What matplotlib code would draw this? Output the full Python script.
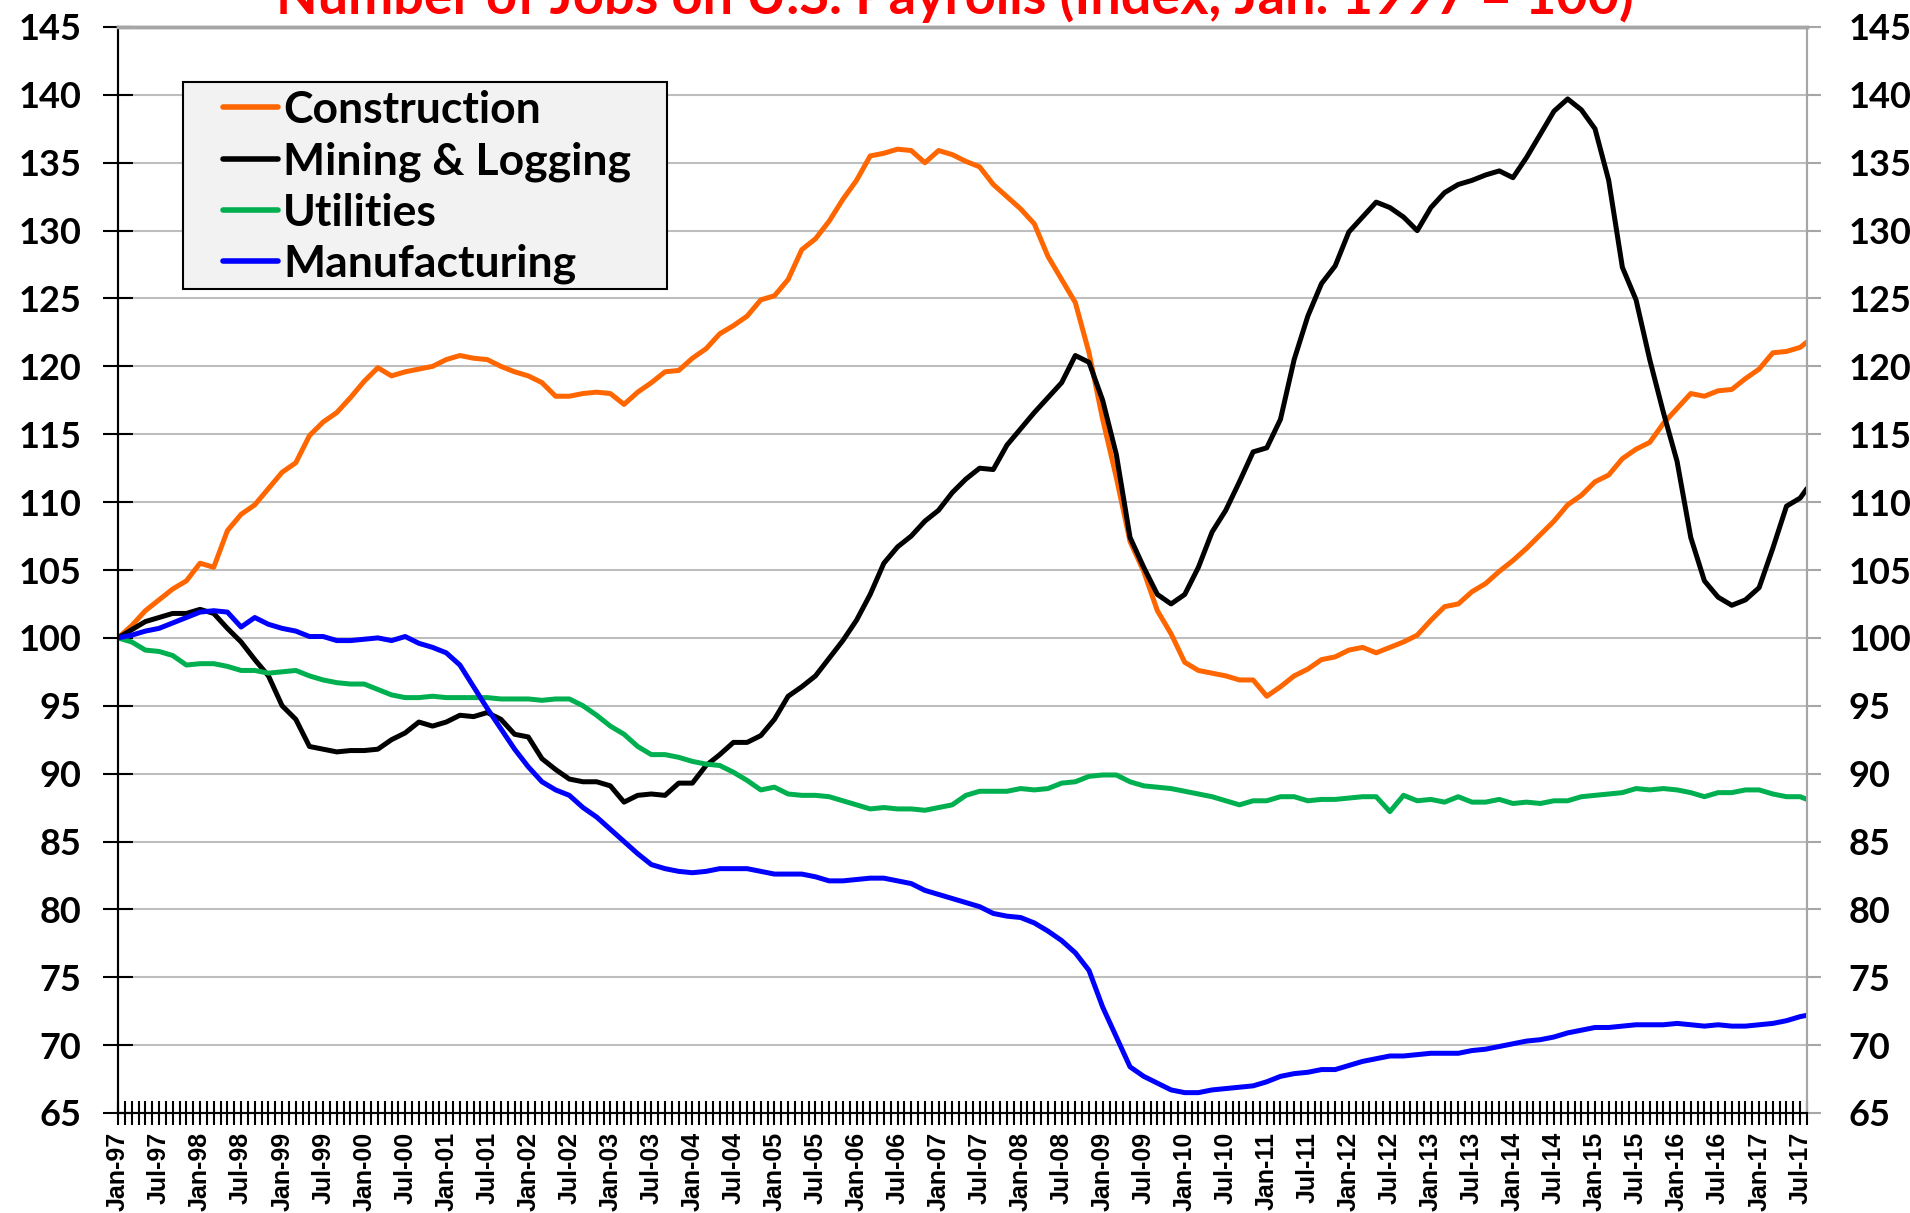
import numpy as np
import pandas as pd
import matplotlib
matplotlib.use("Agg")
import matplotlib.pyplot as plt
from matplotlib.ticker import FixedLocator, MultipleLocator
from matplotlib.patches import Rectangle

# month index (0 = Jan-97), sampled every two months plus the last month (Aug-17)
month_idx = list(range(0, 247, 2)) + [247]

construction = [
    100.0, 100.9, 102.0, 102.8, 103.6, 104.2, 105.5, 105.2, 107.9, 109.1, 109.8, 111.0, 112.2,
    112.9, 114.9, 115.9, 116.6, 117.7, 118.9, 119.9, 119.3, 119.6, 119.8, 120.0, 120.5, 120.8,
    120.6, 120.5, 120.0, 119.6, 119.3, 118.8, 117.8, 117.8, 118.0, 118.1, 118.0, 117.2, 118.1,
    118.8, 119.6, 119.7, 120.6, 121.3, 122.4, 123.0, 123.7, 124.9, 125.2, 126.4,
    128.6, 129.4, 130.7, 132.3, 133.7, 135.5, 135.7, 136.0, 135.9, 135.0, 135.9, 135.6, 135.1,
    134.7, 133.4, 132.5, 131.6, 130.5, 128.1, 126.4, 124.7, 121.0, 116.1, 111.8, 107.1,
    104.9, 102.0, 100.3, 98.2, 97.6, 97.4, 97.2, 96.9, 96.9, 95.7, 96.4, 97.2, 97.7,
    98.4, 98.6, 99.1, 99.3, 98.9, 99.3, 99.7, 100.2, 101.3, 102.3, 102.5, 103.4,
    104.0, 104.9, 105.7, 106.6, 107.6, 108.6, 109.8, 110.5, 111.5, 112.0, 113.2, 113.9, 114.4,
    115.8, 116.9, 118.0, 117.8, 118.2, 118.3, 119.1, 119.8, 121.0, 121.1, 121.4, 121.8,
]
mining = [
    100.0, 100.6, 101.2, 101.5, 101.8, 101.8, 102.1, 101.8, 100.7, 99.7, 98.4, 97.2, 95.0,
    94.0, 92.0, 91.8, 91.6, 91.7, 91.7, 91.8, 92.5, 93.0, 93.8, 93.5, 93.8, 94.3,
    94.2, 94.5, 94.0, 92.9, 92.7, 91.1, 90.3, 89.6, 89.4, 89.4, 89.1, 87.9, 88.4,
    88.5, 88.4, 89.3, 89.3, 90.6, 91.4, 92.3, 92.3, 92.8, 94.0, 95.7,
    96.4, 97.2, 98.5, 99.8, 101.3, 103.2, 105.5, 106.7, 107.5, 108.6, 109.4, 110.7, 111.7,
    112.5, 112.4, 114.2, 115.4, 116.6, 117.7, 118.8, 120.8, 120.3, 117.5, 113.5, 107.4,
    105.2, 103.2, 102.5, 103.2, 105.2, 107.8, 109.4, 111.5, 113.7, 114.0, 116.1, 120.5, 123.7,
    126.1, 127.4, 129.9, 131.0, 132.1, 131.7, 131.0, 130.0, 131.7, 132.8, 133.4, 133.7,
    134.1, 134.4, 133.9, 135.4, 137.1, 138.8, 139.7, 138.9, 137.5, 133.7, 127.3, 124.9, 120.5,
    116.6, 113.0, 107.4, 104.2, 103.0, 102.4, 102.8, 103.7, 106.6, 109.7, 110.3, 111.0,
]
utilities = [
    100.0, 99.7, 99.1, 99.0, 98.7, 98.0, 98.1, 98.1, 97.9, 97.6, 97.6, 97.4, 97.5,
    97.6, 97.2, 96.9, 96.7, 96.6, 96.6, 96.2, 95.8, 95.6, 95.6, 95.7, 95.6, 95.6,
    95.6, 95.6, 95.5, 95.5, 95.5, 95.4, 95.5, 95.5, 95.0, 94.3, 93.5, 92.9, 92.0,
    91.4, 91.4, 91.2, 90.9, 90.7, 90.6, 90.1, 89.5, 88.8, 89.0, 88.5,
    88.4, 88.4, 88.3, 88.0, 87.7, 87.4, 87.5, 87.4, 87.4, 87.3, 87.5, 87.7, 88.4,
    88.7, 88.7, 88.7, 88.9, 88.8, 88.9, 89.3, 89.4, 89.8, 89.9, 89.9, 89.4,
    89.1, 89.0, 88.9, 88.7, 88.5, 88.3, 88.0, 87.7, 88.0, 88.0, 88.3, 88.3, 88.0,
    88.1, 88.1, 88.2, 88.3, 88.3, 87.2, 88.4, 88.0, 88.1, 87.9, 88.3, 87.9,
    87.9, 88.1, 87.8, 87.9, 87.8, 88.0, 88.0, 88.3, 88.4, 88.5, 88.6, 88.9, 88.8,
    88.9, 88.8, 88.6, 88.3, 88.6, 88.6, 88.8, 88.8, 88.5, 88.3, 88.3, 88.1,
]
manufacturing = [
    100.0, 100.2, 100.5, 100.7, 101.1, 101.5, 101.9, 102.0, 101.9, 100.8, 101.5, 101.0, 100.7,
    100.5, 100.1, 100.1, 99.8, 99.8, 99.9, 100.0, 99.8, 100.1, 99.6, 99.3, 98.9, 98.0,
    96.4, 94.8, 93.3, 91.8, 90.5, 89.4, 88.8, 88.4, 87.5, 86.8, 85.9, 85.0, 84.1,
    83.3, 83.0, 82.8, 82.7, 82.8, 83.0, 83.0, 83.0, 82.8, 82.6, 82.6,
    82.6, 82.4, 82.1, 82.1, 82.2, 82.3, 82.3, 82.1, 81.9, 81.4, 81.1, 80.8, 80.5,
    80.2, 79.7, 79.5, 79.4, 79.0, 78.4, 77.7, 76.8, 75.5, 72.8, 70.6, 68.4,
    67.7, 67.2, 66.7, 66.5, 66.5, 66.7, 66.8, 66.9, 67.0, 67.3, 67.7, 67.9, 68.0,
    68.2, 68.2, 68.5, 68.8, 69.0, 69.2, 69.2, 69.3, 69.4, 69.4, 69.4, 69.6,
    69.7, 69.9, 70.1, 70.3, 70.4, 70.6, 70.9, 71.1, 71.3, 71.3, 71.4, 71.5, 71.5,
    71.5, 71.6, 71.5, 71.4, 71.5, 71.4, 71.4, 71.5, 71.6, 71.8, 72.1, 72.2,
]

series_names = ["Construction", "Mining & Logging", "Utilities", "Manufacturing"]
series_colors = ["#FF6600", "#000000", "#00B050", "#0000FF"]

# tick labels every 6 months
label_dates = pd.date_range("1997-01-01", "2017-07-01", freq="6MS")
tick_labels = [d.strftime("%b-%y") for d in label_dates]
tick_pos = list(range(0, 6 * len(tick_labels), 6))
n_months = 248

title = "Number of Jobs on U.S. Payrolls (Index, Jan. 1997 = 100)"

W, H = 1910, 1213
fig = plt.figure(figsize=(W / 100, H / 100), dpi=100)
ax = fig.add_axes([118 / W, 1 - 1113 / H, (1807 - 118) / W, (1113 - 27) / H])

data = [construction, mining, utilities, manufacturing]
handles = []
for name, col, vals in zip(series_names, series_colors, data):
    ln, = ax.plot(month_idx, vals, color=col, lw=3.6, label=name,
                  solid_joinstyle="round", solid_capstyle="round", zorder=3)
    handles.append(ln)

ax.set_xlim(0, n_months - 1)
ax.set_ylim(65, 145)
ax.yaxis.set_major_locator(MultipleLocator(5))
ax.grid(axis="y", color="#BEBEBE", lw=1.5, zorder=0)
ax.grid(axis="x", visible=False)

ax.xaxis.set_major_locator(FixedLocator(tick_pos))
ax.xaxis.set_minor_locator(FixedLocator(list(range(n_months))))
ax.set_xticklabels(tick_labels, rotation=90, fontsize=18, fontweight="bold",
                   family="Liberation Sans", va="top")
ax.tick_params(axis="x", which="both", direction="inout", length=17, width=1.5,
               color="black", pad=5)

ax.tick_params(axis="y", which="major", direction="inout", length=21, width=1.5,
               color="black", labelsize=26, pad=16, right=False)
for lab in ax.get_yticklabels():
    lab.set_fontweight("bold")
    lab.set_family("Lato")

ax2 = ax.twinx()
ax2.set_ylim(65, 145)
ax2.yaxis.set_major_locator(MultipleLocator(5))
ax2.tick_params(axis="y", direction="out", length=10, width=1.5, color="#A6A6A6",
                labelsize=26, pad=20)
for lab in ax2.get_yticklabels():
    lab.set_fontweight("bold")
    lab.set_family("Lato")

for a in (ax, ax2):
    a.spines["left"].set_color("black")
    a.spines["left"].set_linewidth(1.5)
    a.spines["bottom"].set_color("black")
    a.spines["bottom"].set_linewidth(1.5)
    a.spines["top"].set_color("#A6A6A6")
    a.spines["top"].set_linewidth(2.5)
    a.spines["right"].set_color("#A6A6A6")
    a.spines["right"].set_linewidth(1.5)

# legend box (drawn separately so that horizontal padding can differ from vertical)
fig.add_artist(Rectangle((183 / W, 1 - 289 / H), (667 - 183) / W, (289 - 82) / H,
                         transform=fig.transFigure, facecolor="#F2F2F2",
                         edgecolor="black", lw=1.5, zorder=4))
leg = fig.legend(handles=handles, labels=series_names, loc="upper left",
                 bbox_to_anchor=(223 / W, 1 - 90 / H), bbox_transform=fig.transFigure,
                 frameon=False, handlelength=1.24, handletextpad=0.11, labelspacing=0.25,
                 borderpad=0.0, borderaxespad=0.0,
                 prop={"family": "Lato", "weight": "bold", "size": 32})
leg.set_zorder(6)
for h in leg.get_lines():
    h.set_linewidth(4.0)
    h.set_solid_capstyle("round")

fig.text(0.5, 1 - 14 / H, title, ha="center", va="baseline", color="#FF0000",
         fontsize=39, fontweight="bold", family="Lato")

fig.savefig("out.png", dpi=100)
